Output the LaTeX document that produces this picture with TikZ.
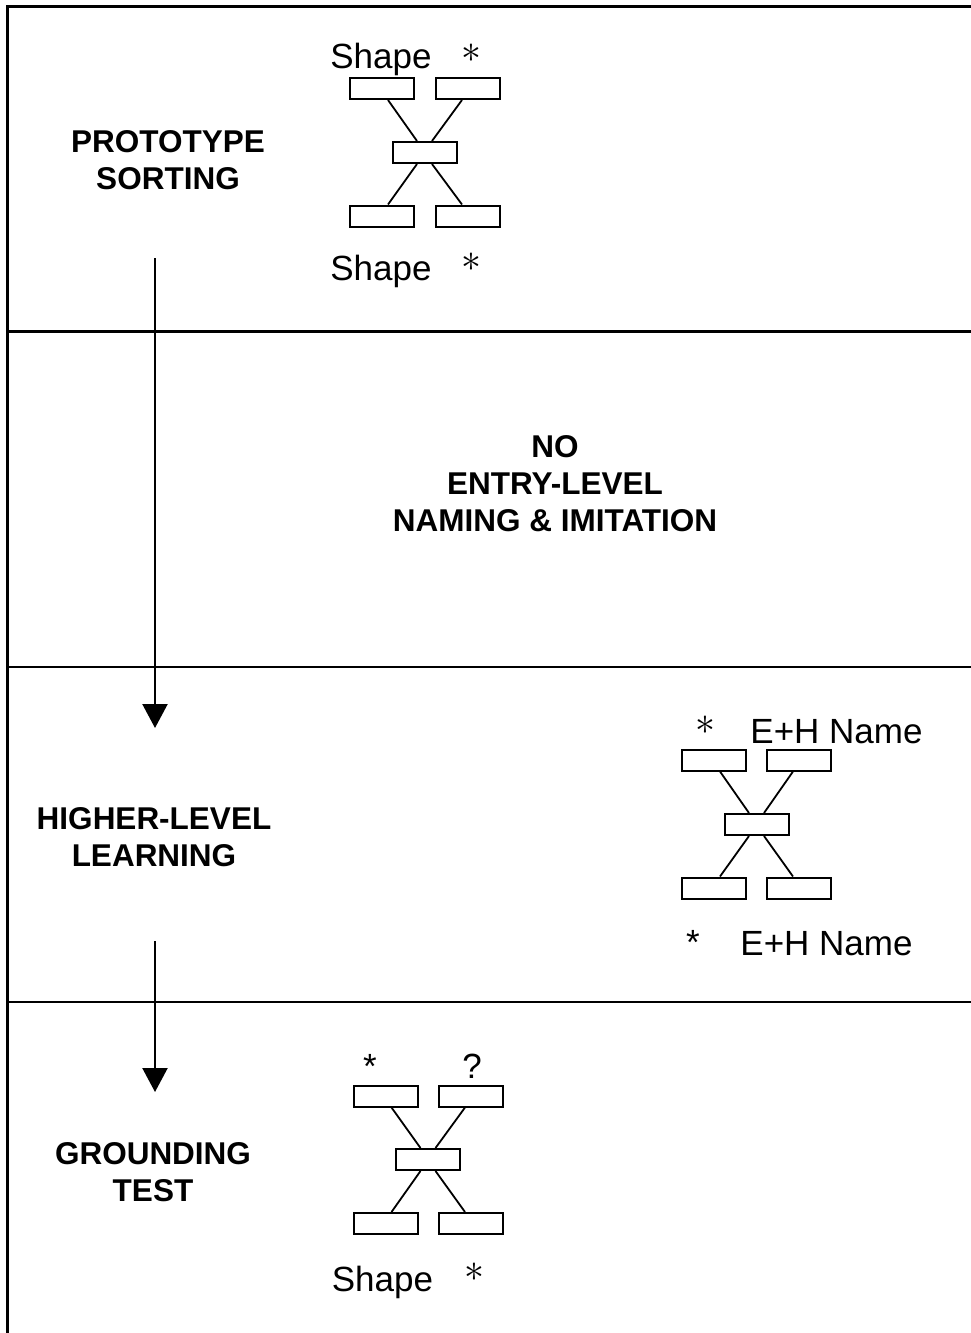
\documentclass[tikz,border=0pt]{standalone}
\usepackage{fontspec}
\setmainfont{Liberation Sans}
\usetikzlibrary{arrows.meta}

\begin{document}
\begin{tikzpicture}[x=1pt,y=-1pt]
\tikzstyle{cell}=[rectangle,draw,line width=2pt,minimum width=64pt,minimum height=21pt,inner sep=0pt]
\tikzstyle{stage}=[align=center,inner sep=0pt,font=\fontsize{31.5}{37}\selectfont\bfseries]
\tikzstyle{lbl}=[anchor=base,inner sep=0pt,font=\fontsize{35}{40}\selectfont]
\tikzstyle{star}=[anchor=base,inner sep=0pt,font=\fontsize{25}{25}\selectfont]
\tikzstyle{link}=[line width=1.8pt]
\tikzstyle{flow}=[line width=2.2pt,-{Triangle[width=25pt,length=24pt]}]
\newcommand{\thinstar}{\scalebox{1.6}{$\ast$}}

\useasboundingbox (0,0) rectangle (971,1333);

% frame and bands
\draw[line width=2.8pt] (7.3,1333) -- (7.3,6.7) -- (971,6.7);
\draw[line width=2.6pt] (7.3,331.5) -- (971,331.5);
\draw[line width=2.6pt] (7.3,667) -- (971,667);
\draw[line width=2.6pt] (7.3,1002) -- (971,1002);

% stage names
\node[stage] (sort) at (168,160) {PROTOTYPE\\SORTING};
\node[stage] (entry) at (555,484) {NO\\ENTRY-LEVEL\\NAMING \& IMITATION};
\node[stage] (learn) at (154,837) {HIGHER-LEVEL\\LEARNING};
\node[stage] (ground) at (153,1172) {GROUNDING\\TEST};

% arrows
\coordinate (f1) at (155,258);
\coordinate (f2) at (155,728);
\coordinate (g1) at (155,941);
\coordinate (g2) at (155,1092);
\draw[flow] (f1) -- (f2);
\draw[flow] (g1) -- (g2);

% first X
\node[cell] (a1) at (382,88.5) {};
\node[cell] (a2) at (468,88.5) {};
\node[cell] (a3) at (424.5,152.5) {};
\node[cell] (a4) at (382,216) {};
\node[cell] (a5) at (468,216) {};
\draw[link] ([xshift=6pt]a1.south) -- ([xshift=-7.5pt]a3.north);
\draw[link] ([xshift=-6pt]a2.south) -- ([xshift=7.5pt]a3.north);
\draw[link] ([xshift=-7.5pt]a3.south) -- ([xshift=6pt]a4.north);
\draw[link] ([xshift=7.5pt]a3.south) -- ([xshift=-6pt]a5.north);
\node[lbl] (a6) at (381,68) {Shape};
\node[star] (a7) at (471.5,62) {\thinstar};
\node[lbl] (a8) at (381,280) {Shape};
\node[star] (a9) at (471.5,271.5) {\thinstar};

% second X
\node[cell] (b1) at (714,760) {};
\node[cell] (b2) at (799,760) {};
\node[cell] (b3) at (756.5,824.5) {};
\node[cell] (b4) at (714,888) {};
\node[cell] (b5) at (799,888) {};
\draw[link] ([xshift=6pt]b1.south) -- ([xshift=-7.5pt]b3.north);
\draw[link] ([xshift=-6pt]b2.south) -- ([xshift=7.5pt]b3.north);
\draw[link] ([xshift=-7.5pt]b3.south) -- ([xshift=6pt]b4.north);
\draw[link] ([xshift=7.5pt]b3.south) -- ([xshift=-6pt]b5.north);
\node[star] (b6) at (705,734) {\thinstar};
\node[lbl] (b7) at (836.5,743) {E+H Name};
\node[lbl] (b8) at (693,954) {*};
\node[lbl] (b9) at (826.5,955) {E+H Name};

% third X
\node[cell] (c1) at (385.5,1096) {};
\node[cell] (c2) at (471,1096) {};
\node[cell] (c3) at (428,1159.5) {};
\node[cell] (c4) at (385.5,1223.5) {};
\node[cell] (c5) at (471,1223.5) {};
\draw[link] ([xshift=6pt]c1.south) -- ([xshift=-7.5pt]c3.north);
\draw[link] ([xshift=-6pt]c2.south) -- ([xshift=7.5pt]c3.north);
\draw[link] ([xshift=-7.5pt]c3.south) -- ([xshift=6pt]c4.north);
\draw[link] ([xshift=7.5pt]c3.south) -- ([xshift=-6pt]c5.north);
\node[lbl] (c6) at (370,1078) {*};
\node[lbl] (c7) at (472,1078) {?};
\node[lbl] (c8) at (382.5,1291) {Shape};
\node[star] (c9) at (474,1281.5) {\thinstar};

\end{tikzpicture}
\end{document}
